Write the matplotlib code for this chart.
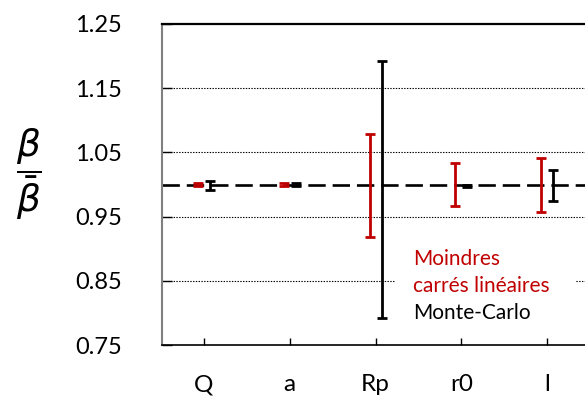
import matplotlib
matplotlib.use("Agg")
import matplotlib.pyplot as plt
import numpy as np
from matplotlib.patches import Rectangle

plt.rcParams['font.family'] = ['Lato', 'DejaVu Sans']
plt.rcParams['lines.scale_dashes'] = False

categories = ['Q', 'a', 'Rp', 'r0', 'l']
mc_lin_low = [0.998, 0.998, 0.918, 0.967, 0.957]
mc_lin_high = [1.002, 1.002, 1.079, 1.033, 1.042]
monte_low = [0.991, 0.997, 0.792, 0.996, 0.974]
monte_high = [1.006, 1.003, 1.192, 1.000, 1.023]
yticks = [0.75, 0.85, 0.95, 1.05, 1.15, 1.25]
ytick_labels = ['0.75', '0.85', '0.95', '1.05', '1.15', '1.25']
gridvals = [0.85, 0.95, 1.05, 1.15]

RED = '#C00000'

fig = plt.figure(figsize=(5.85, 4.01), dpi=100)
ax = fig.add_axes([162/585, 56/401, 423/585, 321/401])

x = np.arange(1, len(categories) + 1)

for g in gridvals:
    ax.axhline(g, color='black', lw=0.8, linestyle=(0, (1.0, 1.0)), zorder=1)
ax.axhline(1.0, color='black', lw=1.9, dashes=(12.5, 5), zorder=2)

def draw(lo, hi, off, color):
    lo = np.array(lo); hi = np.array(hi)
    c = (lo + hi) / 2
    ax.errorbar(x + off, c, yerr=[c - lo, hi - c], fmt='none', ecolor=color,
                elinewidth=2.0, capsize=3.8, capthick=2.0, zorder=4)

draw(mc_lin_low, mc_lin_high, -0.07, RED)
draw(monte_low, monte_high, 0.07, 'black')

ax.set_xlim(0.51, 5.443)
ax.set_ylim(0.75, 1.25)
ax.set_yticks(yticks)
ax.set_yticklabels(ytick_labels, fontsize=17)
ax.set_xticks(x)
ax.set_xticklabels(categories, fontsize=17.5)
ax.tick_params(axis='y', direction='in', length=7, width=1, color='black', pad=29)
ax.tick_params(axis='x', direction='in', length=5, width=1, color='black', pad=21)

ax.spines['right'].set_visible(False)
ax.spines['left'].set_color('#808080')
ax.spines['left'].set_linewidth(1.5)
ax.spines['top'].set_linewidth(1.6)
ax.spines['bottom'].set_linewidth(1.2)

ax.add_patch(Rectangle((0.551, 0.047), 0.425, 0.28, transform=ax.transAxes,
                       facecolor='white', edgecolor='none', zorder=3))
ax.text(0.593, 0.249, 'Moindres', color=RED, fontsize=15, transform=ax.transAxes,
        va='baseline', ha='left', zorder=5)
ax.text(0.593, 0.165, 'carrés linéaires', color=RED, fontsize=15, transform=ax.transAxes,
        va='baseline', ha='left', zorder=5)
ax.text(0.593, 0.081, 'Monte-Carlo', color='black', fontsize=15, transform=ax.transAxes,
        va='baseline', ha='left', zorder=5)

fig.text(29/585, 1 - 174/401, r'$\dfrac{\beta}{\bar{\beta}}$', fontsize=27,
         ha='center', va='center')

fig.savefig('out.png', dpi=100)
